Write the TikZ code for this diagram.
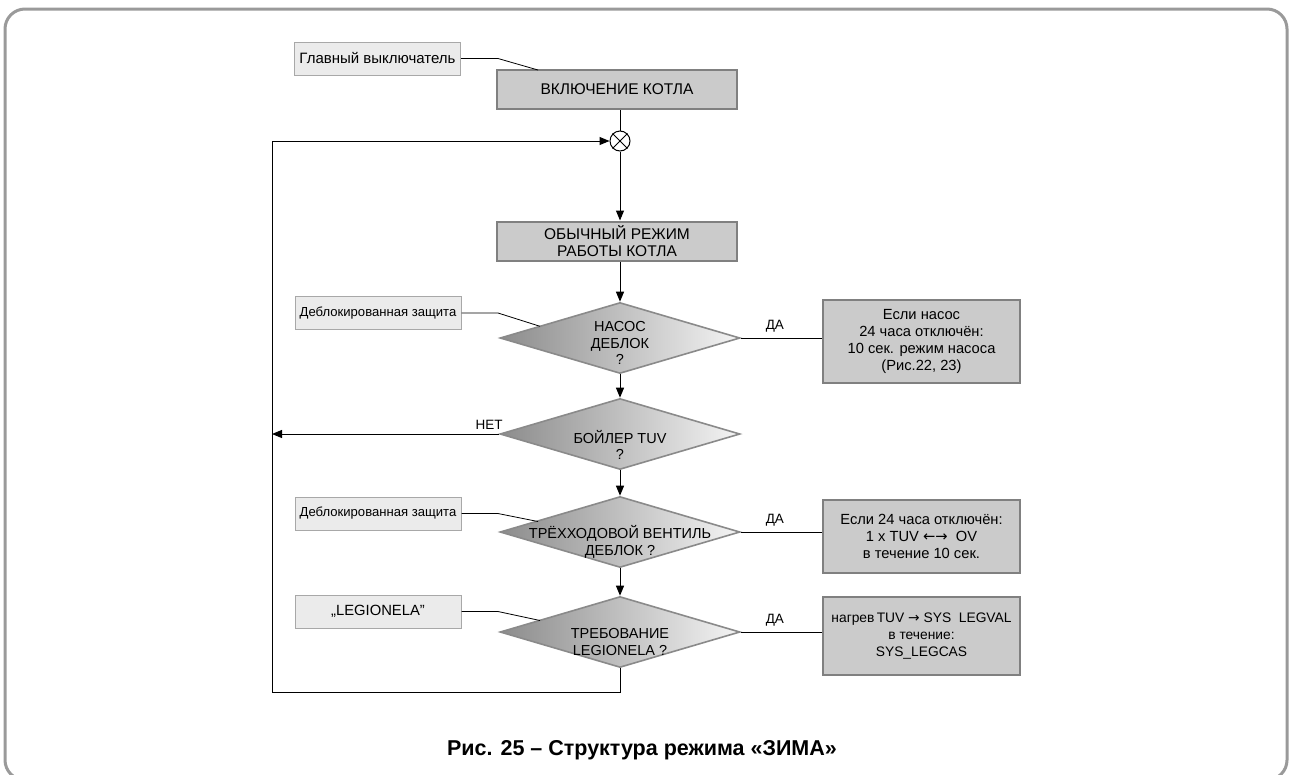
\documentclass[tikz,border=0pt]{standalone}
\usepackage{fontspec}
\setmainfont{Liberation Sans}
\newfontfamily\arrfont{DejaVu Sans}
\usetikzlibrary{shapes.geometric,arrows.meta,shadings}
\definecolor{boxfill}{HTML}{CBCBCB}
\definecolor{boxline}{HTML}{808080}
\definecolor{lightfill}{HTML}{EBEBEB}
\definecolor{lightline}{HTML}{A8A8A8}
\definecolor{framec}{HTML}{9A9A9A}
\definecolor{diadark}{HTML}{8C8C8C}
\definecolor{dialight}{HTML}{F4F4F4}
\definecolor{dialine}{HTML}{8A8A8A}
\begin{document}
\begin{tikzpicture}[x=1pt,y=-1pt,
  mainbox/.style={draw=boxline, fill=boxfill, line width=2pt, minimum width=240pt,
    minimum height=39pt, align=center, inner sep=0pt,
    font=\fontsize{15.5}{17.5}\selectfont},
  rbox/.style={draw=boxline, fill=boxfill, line width=2pt, minimum width=197pt,
    align=center, inner sep=0pt, font=\fontsize{14.7}{17.2}\selectfont},
  lightbox/.style={draw=lightline, fill=lightfill, line width=1pt, minimum width=166pt,
    minimum height=33pt, align=center, inner sep=0pt},
  dia/.style={diamond, draw=dialine, line width=1.6pt, left color=diadark, right color=dialight,
    minimum width=240pt, minimum height=71pt, inner sep=0pt},
  diatext/.style={align=center, inner sep=0pt, font=\fontsize{14.5}{16.5}\selectfont},
  lbl/.style={inner sep=0pt, font=\fontsize{13.5}{15}\selectfont},
  flow/.style={draw=black, line width=1pt, -{Triangle[length=10pt,width=8pt]}},
  plain/.style={draw=black, line width=1pt},
  thin/.style={draw=black, line width=0.8pt}
]
\useasboundingbox (0,0) rectangle (1289,774);
% outer frame
\draw[framec, line width=3pt, rounded corners=20pt] (5,9) rectangle (1287,780);

% main boxes
\node[mainbox] (m1) at (617,89.5) {ВКЛЮЧЕНИЕ КОТЛА};
\node[mainbox] (m2) at (617,241) {ОБЫЧНЫЙ РЕЖИМ\\РАБОТЫ КОТЛА};
\node[circle, draw=black, line width=1pt, minimum size=20pt, inner sep=0pt, fill=white] (c) at (620,141) {};
\draw[line width=1pt] (c.north west) -- (c.south east) (c.north east) -- (c.south west);

% diamonds
\node[dia] (d1) at (620,338) {};
\node[diatext] at (620,343) {НАСОС\\ДЕБЛОК\\?};
\node[dia] (d2) at (620,434) {};
\node[diatext] at (620,445) {БОЙЛЕР TUV\\?};
\node[dia] (d3) at (620,532) {};
\node[diatext] at (620,542) {ТРЁХХОДОВОЙ ВЕНТИЛЬ\\ДЕБЛОК ?};
\node[dia] (d4) at (620,632) {};
\node[diatext] at (620,642) {ТРЕБОВАНИЕ\\LEGIONELA ?};

% right boxes
\node[rbox, minimum height=83pt] (r1) at (921.5,341.5) {Если насос\\24 часа отключён:\\10 сек. режим насоса\\(Рис.22, 23)};
\node[rbox, minimum height=73pt] (r2) at (921.5,536.5) {Если 24 часа отключён:\\1 x TUV {\arrfont ←→}\ \ OV\\в течение 10 сек.};
\node[rbox, minimum height=78pt, font=\fontsize{13.8}{17.2}\selectfont] (r3) at (921.5,636) {нагрев\,TUV {\arrfont →} SYS\ \ LEGVAL\\в течение:\\SYS\_LEGCAS};

% label boxes
\node[lightbox, font=\fontsize{15}{17}\selectfont] (l1) at (377.5,58.5) {Главный выключатель};
\node[lightbox, font=\fontsize{13.1}{15}\selectfont] (l2) at (378,313) {Деблокированная защита};
\node[lightbox, font=\fontsize{13.1}{15}\selectfont] (l3) at (378,513.5) {Деблокированная защита};
\node[lightbox, font=\fontsize{14.8}{17}\selectfont] (l4) at (378,611.5) {„LEGIONELA"};

% label connectors
\coordinate (k1) at (498,58.5);  \coordinate (e1) at (538,70);
\coordinate (k2) at (498,313);   \coordinate (e2) at (540,326.3);
\coordinate (k3) at (498,513.5); \coordinate (e3) at (538,521.5);
\coordinate (k4) at (498,611.5); \coordinate (e4) at (540,620.5);
\draw[thin] (l1.east) -- (k1) -- (e1);
\draw[thin] (l2.east) -- (k2) -- (e2);
\draw[thin] (l3.east) -- (k3) -- (e3);
\draw[thin] (l4.east) -- (k4) -- (e4);

% main flow
\draw[plain] (m1.south -| c) -- (c.north);
\draw[flow] (c.south) -- (c.south |- m2.north);
\draw[flow] (m2.south -| d1) -- (d1.north);
\draw[flow] (d1.south) -- (d2.north);
\draw[flow] (d2.south) -- (d3.north);
\draw[flow] (d3.south) -- (d4.north);

% yes branches
\draw[plain] (d1.east) -- (d1.east -| r1.west) node[lbl, pos=0.42, above=5pt] {ДА};
\draw[plain] (d3.east) -- (d3.east -| r2.west) node[lbl, pos=0.42, above=5pt] {ДА};
\draw[plain] (d4.east) -- (d4.east -| r3.west) node[lbl, pos=0.42, above=5pt] {ДА};

% loop back
\coordinate (lb) at (620,692);
\coordinate (ll) at (272,692);
\coordinate (lt) at (272,141);
\coordinate (ln) at (272,434);
\draw[plain] (d4.south) -- (lb) -- (ll) -- (lt);
\draw[flow] (lt) -- (c.west);
\draw[flow] (d2.west) -- (ln);
\node[lbl] (net) at (489,425) {НЕТ};

% caption
\node[font=\bfseries\fontsize{21.5}{24}\selectfont] (cap) at (642,750) {Рис. 25 – Структура режима «ЗИМА»};
\end{tikzpicture}
\end{document}
